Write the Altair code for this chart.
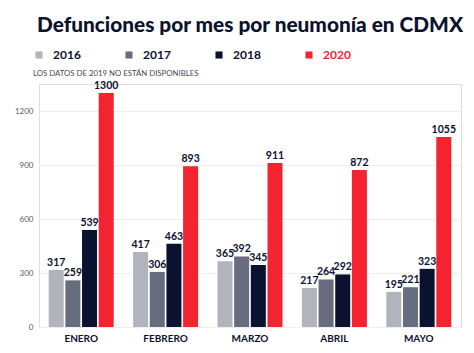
import altair as alt
import pandas as pd

months = ["ENERO", "FEBRERO", "MARZO", "ABRIL", "MAYO"]
years = ["2016", "2017", "2018", "2020"]
v2016 = [317, 417, 365, 217, 195]
v2017 = [259, 306, 392, 264, 221]
v2018 = [539, 463, 345, 292, 323]
v2020 = [1300, 893, 911, 872, 1055]
colors = ["#b2b4bd", "#676c7e", "#0b1230", "#f3242f"]
y_ticks = [0, 300, 600, 900, 1200]

rows = []
for yr, vals in zip(years, [v2016, v2017, v2018, v2020]):
    for m, v in zip(months, vals):
        rows.append({"mes": m, "anio": yr, "valor": v})
df = pd.DataFrame(rows)

FONT = "Lato"
DARK = "#0b1230"

x = alt.X("mes:N", sort=months, title=None,
          scale=alt.Scale(paddingInner=0.23, paddingOuter=0.115),
          axis=alt.Axis(labelAngle=0, ticks=False, domain=False, labelFont=FONT,
                        labelFontSize=10, labelFontWeight="bold", labelColor=DARK,
                        labelPadding=6))
xo = alt.XOffset("anio:N", sort=years, scale=alt.Scale(paddingInner=0.1, paddingOuter=0))
y = alt.Y("valor:Q", title=None,
          scale=alt.Scale(domain=[0, 1350], nice=False),
          axis=alt.Axis(values=y_ticks, format="d", ticks=False, domain=False, labelFont=FONT,
                        labelFontSize=8, labelColor="#555a66", labelPadding=6,
                        gridColor="#eeeeee", gridWidth=1))

color = alt.Color("anio:N", sort=years,
                  scale=alt.Scale(domain=years, range=colors),
                  legend=alt.Legend(
                      title="LOS DATOS DE 2019 NO ESTÁN DISPONIBLES",
                      titleOrient="bottom", titleAnchor="start", titleFont=FONT,
                      titleFontSize=7.8, titleFontWeight="normal", titleColor="#444a55",
                      titlePadding=9,
                      orient="none", legendX=-6, legendY=-35, direction="horizontal",
                      columns=4, columnPadding=42, symbolType="square", symbolSize=50,
                      symbolStrokeWidth=0, labelFont=FONT, labelFontSize=12,
                      labelFontWeight="bold", labelOffset=8,
                      labelColor={"expr": "datum.label == '2020' ? '#f3242f' : '#0b1230'"}))

bars = alt.Chart(df).mark_bar().encode(x=x, xOffset=xo, y=y, color=color)
labels = alt.Chart(df).mark_text(baseline="bottom", dy=-2, font=FONT, fontSize=10.5,
                                 fontWeight="bold", color=DARK).encode(
    x=alt.X("mes:N", sort=months), xOffset=xo, y="valor:Q", text="valor:Q")

chart = alt.layer(bars, labels).properties(
    width=422, height=243,
    title=alt.TitleParams("Defunciones por mes por neumonía en CDMX", anchor="middle",
                          font=FONT, fontSize=20.8, fontWeight=900, color=DARK,
                          offset=12),
    autosize=alt.AutoSizeParams(type="none"),
    padding={"left": 39, "top": 84, "right": 13, "bottom": 26},
).configure_view(stroke=None).configure(background="white")

chart.save("out.html", embed_options={"renderer": "svg", "actions": False})
